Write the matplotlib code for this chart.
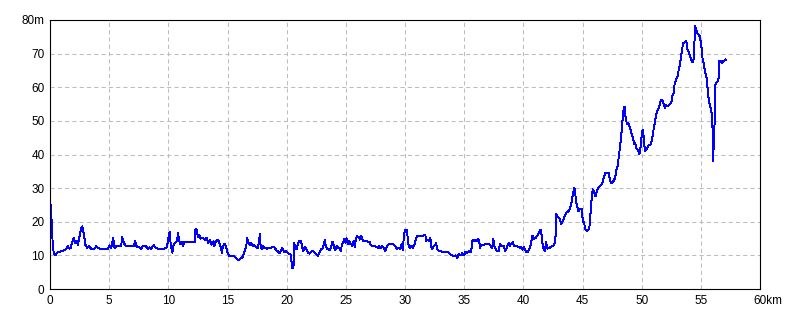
import matplotlib
matplotlib.use("Agg")
import matplotlib.pyplot as plt

# elevation profile (distance km, elevation m)
dist_km = [
    0.0, 0.07, 0.10, 0.17, 0.22, 0.30, 0.40, 0.50, 0.59, 0.75, 0.96, 1.24, 1.38, 1.52, 1.63,
    1.74, 1.85, 1.99, 2.06, 2.13, 2.25, 2.36, 2.50, 2.64, 2.72, 2.87, 2.98, 3.15, 3.31, 3.48,
    3.62, 3.76, 3.90, 4.04, 4.27, 4.89, 5.03, 5.17, 5.34, 5.45, 5.59, 6.01, 6.10, 6.24, 6.38,
    6.52, 7.08, 7.19, 7.30, 7.56, 7.70, 7.84, 8.12, 8.26, 8.40, 8.54, 8.76, 8.88, 9.10, 9.38,
    9.66, 9.89, 10.00, 10.11, 10.20, 10.34, 10.45, 10.60, 10.74, 10.82, 10.91, 11.02, 11.14,
    11.25, 11.36, 11.53, 12.24, 12.30, 12.39, 12.50, 12.61, 12.73, 12.90, 13.10, 13.24, 13.38,
    13.52, 13.66, 13.81, 13.89, 14.03, 14.18, 14.32, 14.43, 14.52, 14.60, 14.74, 14.86, 15.00,
    15.17, 15.37, 15.51, 15.65, 15.80, 15.94, 16.08, 16.22, 16.36, 16.48, 16.59, 16.65, 16.76,
    16.88, 16.99, 17.16, 17.27, 17.44, 17.56, 17.67, 17.73, 17.78, 17.90, 18.01, 18.13, 18.35,
    18.64, 18.78, 18.98, 19.15, 19.26, 19.38, 19.49, 19.63, 19.77, 19.91, 20.06, 20.20, 20.34,
    20.40, 20.48, 20.57, 20.64, 20.72, 20.83, 20.94, 21.06, 21.22, 21.31, 21.39, 21.53, 21.67,
    21.81, 21.94, 22.08, 22.22, 22.36, 22.50, 22.64, 22.78, 22.92, 23.06, 23.14, 23.22, 23.31,
    23.39, 23.50, 23.61, 23.75, 23.83, 23.92, 24.00, 24.11, 24.22, 24.33, 24.44, 24.58, 24.67,
    24.78, 24.86, 24.94, 25.06, 25.17, 25.28, 25.36, 25.44, 25.56, 25.67, 25.75, 25.83, 25.92,
    26.11, 26.19, 26.31, 26.44, 26.67, 26.83, 27.00, 27.11, 27.28, 27.44, 27.61, 27.72, 27.83,
    27.94, 28.06, 28.19, 28.33, 28.44, 28.56, 28.67, 29.03, 29.17, 29.31, 29.44, 29.58, 29.72,
    29.81, 29.86, 29.94, 30.03, 30.17, 30.25, 30.33, 30.44, 30.56, 30.67, 30.78, 30.88, 31.02,
    31.16, 31.58, 31.72, 31.78, 31.92, 32.03, 32.15, 32.20, 32.29, 32.43, 32.54, 32.63, 32.71,
    32.85, 32.99, 33.14, 33.42, 33.56, 33.70, 33.84, 33.98, 34.12, 34.27, 34.41, 34.55, 34.69,
    34.83, 34.97, 35.11, 35.25, 35.40, 35.54, 35.62, 35.71, 35.82, 35.93, 36.05, 36.16, 36.27,
    36.33, 36.44, 36.67, 36.81, 37.09, 37.23, 37.37, 37.46, 37.54, 37.66, 37.80, 37.94, 38.02,
    38.14, 38.36, 38.47, 38.64, 38.76, 38.87, 38.98, 39.10, 39.21, 39.49, 39.72, 39.83, 39.94,
    40.06, 40.20, 40.34, 40.48, 40.62, 40.76, 40.90, 41.05, 41.20, 41.41, 41.49, 41.63, 41.75,
    41.83, 41.92, 42.03, 42.20, 42.39, 42.53, 42.65, 42.72, 42.77, 42.88, 42.99, 43.10, 43.20,
    43.31, 43.39, 43.51, 43.62, 43.73, 43.84, 43.96, 44.04, 44.13, 44.21, 44.30, 44.38, 44.44,
    44.52, 44.66, 44.80, 44.94, 45.03, 45.14, 45.23, 45.37, 45.51, 45.59, 45.65, 45.73, 45.82,
    45.88, 45.99, 46.10, 46.21, 46.35, 46.49, 46.63, 46.72, 46.83, 46.94, 47.20, 47.28, 47.39,
    47.51, 47.62, 47.76, 47.85, 47.96, 48.04, 48.13, 48.24, 48.32, 48.41, 48.49, 48.58, 48.63,
    48.75, 48.86, 48.97, 49.09, 49.18, 49.29, 49.40, 49.46, 49.52, 49.63, 49.72, 49.80, 49.86,
    49.94, 50.03, 50.11, 50.17, 50.26, 50.31, 50.43, 50.54, 50.65, 50.77, 50.85, 50.94, 51.05,
    51.14, 51.22, 51.34, 51.45, 51.56, 51.65, 51.73, 51.82, 51.90, 51.99, 52.07, 52.19, 52.30,
    52.41, 52.52, 52.61, 52.69, 52.78, 52.90, 52.98, 53.07, 53.15, 53.24, 53.32, 53.41, 53.49,
    53.61, 53.69, 53.78, 53.84, 53.95, 54.06, 54.15, 54.23, 54.35, 54.40, 54.46, 54.52, 54.60,
    54.69, 54.80, 54.91, 55.03, 55.14, 55.26, 55.37, 55.48, 55.57, 55.65, 55.74, 55.82, 55.91,
    55.97, 56.00, 56.02, 56.05, 56.11, 56.17, 56.22, 56.31, 56.42, 56.51, 56.56, 56.68, 56.79,
    56.88, 56.99, 57.10,
]
elev_m = [
    25.5, 25.0, 20.5, 20.5, 13.5, 11.2, 10.0, 10.2, 10.8, 11.0, 11.3, 11.5, 12.0, 12.7, 12.0,
    12.2, 13.7, 15.2, 14.5, 13.7, 14.4, 13.2, 15.7, 18.1, 18.6, 16.2, 13.2, 12.2, 12.7, 12.0,
    12.0, 12.0, 12.7, 12.2, 12.0, 12.0, 13.0, 12.2, 15.2, 12.2, 12.7, 12.7, 15.4, 13.7, 13.0,
    12.7, 12.7, 14.2, 12.7, 12.4, 12.0, 12.7, 12.7, 12.0, 12.4, 12.0, 13.0, 12.4, 12.0, 11.8,
    12.0, 12.4, 15.2, 17.0, 13.3, 10.8, 13.3, 13.8, 14.3, 16.7, 14.3, 13.3, 14.1,
    12.8, 14.1, 14.1, 14.1, 18.0, 17.7, 15.4, 16.0, 15.0, 15.2, 14.7, 15.2, 13.7,
    14.7, 13.2, 14.2, 12.7, 14.2, 14.7, 13.7, 12.5, 10.8, 12.7, 13.4, 12.7, 10.8,
    9.8, 9.8, 9.8, 9.5, 8.8, 8.6, 9.1, 9.1, 10.3, 11.8, 12.7, 15.2, 14.0,
    13.0, 13.7, 12.7, 13.0, 12.4, 12.2, 14.0, 16.4, 13.2, 11.8, 12.7, 12.2, 12.0,
    12.2, 12.5, 12.4, 11.3, 11.3, 10.6, 11.3, 12.1, 11.1, 11.3, 10.8, 10.5, 10.3,
    8.3, 6.3, 6.1, 13.8, 12.3, 11.8, 13.3, 14.3, 14.3, 12.3, 11.3, 12.5, 11.8,
    10.8, 10.5, 11.1, 11.3, 10.8, 10.3, 9.8, 10.8, 11.8, 12.1, 13.3, 14.5, 12.8,
    12.1, 11.8, 11.5, 12.3, 13.8, 14.1, 12.3, 11.5, 12.8, 12.3, 12.1, 11.3, 13.3,
    13.8, 14.8, 13.8, 15.1, 13.3, 14.3, 13.5, 13.3, 12.8, 14.3, 12.5, 14.3, 15.7,
    15.4, 14.7, 15.7, 14.3, 14.3, 14.1, 14.1, 13.1, 12.8, 12.8, 12.5, 12.3, 12.8,
    12.1, 12.8, 12.3, 11.3, 12.3, 13.1, 13.3, 13.3, 12.8, 12.0, 12.3, 11.8, 13.3,
    11.5, 13.8, 16.7, 17.7, 17.4, 14.2, 12.5, 12.3, 12.8, 12.3, 13.1, 14.3, 15.7,
    15.9, 15.9, 16.2, 14.2, 14.7, 14.2, 15.2, 12.6, 11.8, 12.8, 13.0, 13.7, 11.8,
    11.3, 11.3, 11.0, 11.0, 11.0, 10.8, 10.3, 10.1, 9.8, 10.0, 9.3, 10.3, 10.0,
    10.6, 10.0, 11.0, 10.8, 11.3, 11.0, 12.0, 14.7, 14.2, 14.7, 14.2, 14.9, 14.5,
    12.2, 12.9, 13.2, 13.5, 13.5, 12.9, 12.2, 14.9, 12.7, 11.9, 11.2, 11.2, 13.5,
    12.9, 12.9, 11.2, 12.7, 13.7, 12.9, 13.5, 13.9, 12.9, 12.7, 12.2, 12.5, 11.7,
    12.5, 11.2, 10.9, 11.7, 13.2, 15.9, 15.0, 15.2, 16.0, 17.5, 17.6, 13.1, 11.6,
    11.3, 14.0, 12.0, 12.2, 12.7, 12.9, 13.7, 15.7, 22.2, 21.7, 21.2, 20.7, 19.2,
    20.2, 20.7, 21.7, 22.7, 22.9, 23.2, 24.2, 25.2, 27.1, 28.6, 30.1, 29.6, 25.7,
    25.2, 23.2, 23.9, 23.7, 20.2, 19.7, 17.7, 17.2, 17.7, 18.7, 21.2, 25.2, 28.6,
    29.6, 28.6, 27.6, 29.1, 30.1, 30.6, 31.1, 32.1, 33.6, 34.6, 34.6, 33.1, 31.6,
    31.6, 32.1, 33.1, 35.1, 36.6, 38.6, 41.1, 44.5, 47.5, 51.5, 54.0, 54.0, 51.5,
    49.0, 49.5, 48.5, 46.9, 45.9, 44.5, 43.0, 43.5, 42.0, 41.5, 41.0, 40.0, 41.0,
    43.0, 46.9, 47.4, 45.0, 41.5, 41.0, 41.8, 42.5, 42.8, 43.0, 44.0, 45.9, 48.4,
    49.9, 51.9, 53.1, 53.9, 55.3, 56.3, 56.3, 55.3, 54.7, 53.9, 54.7, 54.4, 54.7,
    55.0, 55.8, 57.6, 58.0, 60.8, 62.3, 62.8, 63.8, 65.7, 66.7, 69.2, 70.7, 73.2,
    73.2, 73.5, 73.7, 71.5, 70.7, 69.7, 68.7, 67.7, 67.4, 68.7, 73.7, 78.1, 77.1,
    76.1, 75.8, 75.1, 72.7, 68.7, 66.7, 64.3, 62.8, 59.8, 56.8, 54.9, 53.9, 52.4,
    50.9, 45.0, 38.0, 41.0, 42.0, 50.9, 60.8, 61.3, 61.8, 62.8, 67.9, 67.9, 67.2,
    67.7, 67.9, 68.2,
]

x_ticks = list(range(0, 61, 5))
x_labels = [str(v) for v in x_ticks[:-1]] + [""]
y_ticks = list(range(0, 81, 10))
y_labels = [str(v) for v in y_ticks[:-1]] + ["80m"]

plt.rcParams["font.family"] = ["Liberation Sans", "DejaVu Sans"]

fig = plt.figure(figsize=(8, 3.2), dpi=100)
ax = fig.add_axes([50 / 800, 31 / 320, 710 / 800, 269 / 320])

# the original is a plain 1px aliased line
ax.plot(dist_km, elev_m, color="#0000ff", lw=0.7, antialiased=False)

ax.set_xlim(0, 60)
ax.set_ylim(0, 80)
ax.set_xticks(x_ticks, x_labels)
ax.set_yticks(y_ticks, y_labels)
ax.tick_params(length=0, labelsize=8.5, pad=4)
ax.grid(True, color="#bdbdbd", lw=0.75, linestyle=(0, (4, 3)))
for s in ax.spines.values():
    s.set_linewidth(0.8)
    s.set_color("black")

# "60km" sits with its digits centred on the last tick
ax.annotate("60km", xy=(60, 0), xycoords="data", xytext=(-7, -6),
            textcoords="offset pixels", ha="left", va="top", fontsize=8.5)

fig.savefig("out.png", dpi=100)
